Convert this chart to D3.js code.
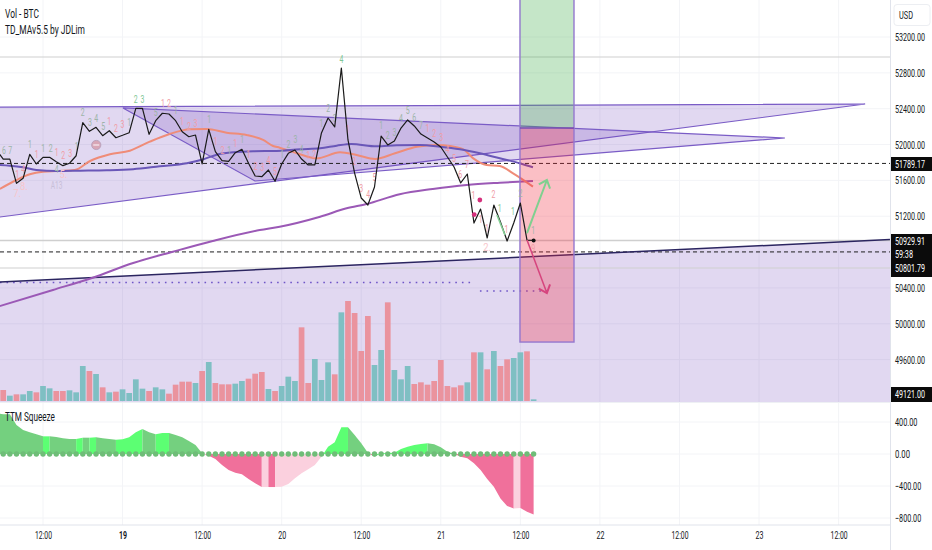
<!DOCTYPE html>
<html><head><meta charset="utf-8">
<script src="https://cdn.jsdelivr.net/npm/d3@7/dist/d3.min.js"></script>
<style>html,body{margin:0;background:#fff}svg{display:block;font-family:Roboto,sans-serif}</style>
</head><body><svg id="c" width="932" height="550"></svg>
<script>
// hours are counted from 18th 00:00
const firstCloseHour = 5;
const closes = [51939,51838,51838,51567,51623,51891,51783,51857,51857,51808,51764,51791,51875,52244,52148,52192,52099,52154,52076,52103,52132,52404,52404,52114,52266,52349,52341,52266,52143,52087,52106,51783,52170,51920,51820,51813,51909,51947,51791,51649,51641,51716,51590,51783,51902,51939,51838,51772,51772,52129,52296,52196,52854,52051,51682,51403,51325,51526,52095,51995,52039,52184,52274,52207,52117,52073,52028,51972,51861,51749,51571,51671,51124,51280,50957,51325,51135,50923,51124,51347,50934,50930];
const orangeHours = [5.5,8,10,12,14,16.8,19.1,22.1,25.1,28.1,31.1,34.2,36.7,39.7,42.7,45.2,46.7,47.7,50.3,53.3,56.8,59.3,62.1,65.1,68.4,71.4,73.4,75.4,76.9,78.9,80.9,82.9,85.9];
const orangeMa = [51504,51604,51668,51697,51705,51716,51816,51891,51931,52032,52118,52170,52173,52132,52106,52051,51984,51965,51902,51846,51913,51883,51839,51902,51976,51995,51984,51947,51846,51772,51760,51679,51530];
const blueHours = [5.5,7,9,11,14,17.6,21.6,25.6,29.6,33.7,36.2,38.2,40.7,43.7,47.2,50.8,53.8,56.3,58.5,62.3,65.3,68.9,71.9,74.9,77.9,80.9,83.9,85.9];
const blueMa = [51772,51764,51746,51716,51705,51708,51712,51724,51757,51791,51835,51887,51913,51925,51928,51947,51958,51987,52006,51980,51991,51995,51976,51947,51902,51846,51791,51746];
const purpleHours = [5.5,13.5,19.5,25.6,31.6,37.6,44.7,47.7,53.8,57.8,60.8,65.8,70.8,75.9,80.9,85.9];
const purpleMa = [50198,50377,50514,50678,50804,50924,51046,51083,51195,51288,51336,51445,51504,51549,51574,51593];

const firstVolHour = 6;
const volumes = [33,16,20,20,30,26,45,38,30,30,32,26,105,90,81,41,26,28,35,24,65,37,30,41,35,22,49,58,58,54,90,117,54,50,50,52,60,67,82,87,36,30,45,73,60,221,54,126,63,116,80,266,300,264,150,255,108,153,296,93,65,105,51,56,49,60,123,45,41,47,56,146,146,95,150,105,125,129,146,149,5];
const volTones = "rtrttrttrr"+"tttrtrtrtt"+"ttrttrrrrt"+"rtrrrttrrr"+"trtttrrttt"+"rtrrrrttrt"+"ttrrrrrrrr"+"trtrtrrttr"+"t";

const firstSqzHour = 5;
const squeeze = [509,496,496,363,300,271,246,221,221,213,196,188,188,204,204,208,196,188,179,183,208,271,313,271,246,263,263,238,208,163,113,8,-21,-63,-138,-200,-234,-254,-313,-367,-413,-413,-413,-409,-375,-304,-242,-192,-138,-33,92,146,334,334,238,133,17,-33,8,13,17,63,92,113,125,133,121,83,29,4,-33,-54,-117,-200,-313,-409,-555,-650,-680,-675,-721,-755];
const sqzRunStart = [5,12,13,17,18,19,20,23,27,29,31,36,45,46,47,54,58,61,62,70,74,83,84];
const sqzRunEnd =   [12,13,17,18,19,20,23,27,29,31,36,45,46,47,54,58,61,62,70,74,83,84,86];
const sqzRunTone =  ["d","b","d","b","d","b","d","b","d","b","d","p","l","p","l","b","d","p","b","d","p","l","p"];

const priceTicks = [53200,52800,52400,52000,51600,51200,50400,50000,49600];
const gridPrices = [53200,52800,52400,52000,51600,51200,50800,50400,50000,49600];
const sqzTicks = [400,0,-400,-800];
const timeTicks = [12,24,36,48,60,72,84,96,108,120,132];
const timeLabels = ["12:00","19","12:00","20","12:00","21","12:00","22","12:00","23","12:00"];

const triA = [[2.5,52417],[136,52452],[2.5,51162]];
const triB = [[24.06,52408],[123.9,52073],[43.97,51593]];
const wedge = [[5.51,50466],[139.75,50940]];
const wedgeFloor = 49121;
const boxHours = [83.94,92.09];
const boxPrices = [53700,52185,49796];
const dashedLevels = [51789.17,50801.79];
const grayLevels = [52977,50929.91,50622];
const dotted = [[5.5,77.15,50460],[77.9,88.16,50365]];
const upArrow = [[85,51011],[88,51604]];
const downArrow = [[85,50935],[88,50343]];
const thinGreen = [[80.47,51214],[81.68,50990]];

const tdHours = [6.1,7.07,10.03,12.04,13.15,11.04,14.05,15.06,16.11,17.07,17.97,19.08,20.03,21.09,22,23,24,25,26,27,29,30.1,31,32,32.95,34,35,37.07,38,39.08,40.08,41,42.04,43,44.05,45.06,46,47,48.07,49.03,50.08,8.1,9.13,8.1,9,14.05,14.05,15.06,51,52,52.92,54,55,56,57,57.94,58.9,60,61.06,62,63,64,65,66,67,68,69,70,71,72.06,73,74,74.93,75.93,76.94,79.95,80.9,82.9,84,78,78.95,81.9,79,85.93,85.93];
const tdPrices = [51936,51936,52003,51958,51958,51891,51913,51876,51902,51977,52356,52248,52293,52200,52256,52181,52218,52244,52497,52497,52360,52460,52453,52378,52256,52200,52237,52274,52032,51932,51932,52014,52051,51884,51753,51742,51820,51698,51884,52003,52051,51456,51530,51668,51716,51541,51724,51660,51939,51876,51884,52237,52397,52293,52951,52163,51809,51504,51437,51634,52207,52099,52137,52293,52378,52300,52211,52181,52125,52077,51939,51839,51671,51772,51430,51437,51288,51251,51456,51158,51058,51047,50853,51035,50842];
const tdTexts = ["6","7","1","1","2","1","1","2","3","1","2","3","4","5","1","2","3","1","2","3","5","1","2","1","1","2","3","1","1","2","1","1","1","1","2","3","4","5","1","2","3","7.","8.","1","4","A13","4","5.","4","1","2","1","2","3","4","1","2","3","4","5","1","2","3","4","5","6","7","1","2","3","4","5","6","7","1","2","1","1","2","1","1","1","2.","1","9"];
const tdTones = "ggggg"+"pppp"+"ggggg"+"ppp"+"g"+"GG"+"g"+"pp"+"g"+"ppp"+"g"+"pp"+"g"+"p"+"g"+"ppppp"+"ggg"+"ll"+"pp"+"a"+"g"+"l"+"g"+"pp"+"ggg"+"G"+"ppppp"+"ggggggg"+"ppppppppp"+"GG"+"g"+"ppp"+"l"+"g"+"p";
const pinkDots = [[77.89,51381],[77.04,51218]];
const signalDot = [20.03,51995];
const lastPoint = [86,50929.91];

const svg = d3.select("#c");
const W = 890, PB = 402;
const x = d3.scaleLinear().domain([12,132]).range([43,838.6]);
const y = d3.scaleLinear().domain([53200,49600]).range([37,359.6]);
const yv = d3.scaleLinear().domain([0,333]).range([401,290]);
const ys = d3.scaleLinear().domain([400,-800]).range([422,518]);

// narrow a text horizontally to a wanted width (the reference's lettering is condensed)
function fit(sel, target){
  sel.each(function(d,i){
    const t = typeof target==="function"?target(d,i):target;
    const n = this.getComputedTextLength()||1, s = t/n, x0 = +this.getAttribute("x")||0;
    d3.select(this).attr("x",x0/s).attr("transform",`scale(${s},1)`);
  });
  return sel;
}

const defs = svg.append("defs");
defs.append("clipPath").attr("id","main").append("rect").attr("width",W).attr("height",PB);
defs.append("clipPath").attr("id","low").append("rect").attr("y",403).attr("width",W).attr("height",122);
[["gh","#7fd08f"],["ph","#d6457e"]].forEach(([id,c])=>{
  defs.append("marker").attr("id",id).attr("viewBox","-8 -8 16 16").attr("refX",0).attr("refY",0)
   .attr("markerUnits","userSpaceOnUse").attr("markerWidth",16).attr("markerHeight",16).attr("orient","auto")
   .append("path").attr("d","M-7,-6L0,0L-7,6").attr("fill","none").attr("stroke",c).attr("stroke-width",2);
});

// grid
const grid = svg.append("g").attr("stroke","#f3f4f7").attr("stroke-width",1);
timeTicks.forEach(t=>grid.append("line").attr("x1",x(t)).attr("x2",x(t)).attr("y1",0).attr("y2",525));
gridPrices.forEach(p=>grid.append("line").attr("x1",0).attr("x2",W).attr("y1",y(p)).attr("y2",y(p)));
sqzTicks.forEach(v=>grid.append("line").attr("x1",0).attr("x2",W).attr("y1",ys(v)).attr("y2",ys(v)));

const main = svg.append("g").attr("clip-path","url(#main)");
const pxy = d=>[x(d[0]),y(d[1])];
const line = d3.line();
const lav = "rgba(103,58,183,0.2)", edge="#7a5cc6";

// wedge
const wedgePoly = [wedge[0],wedge[1],[wedge[1][0],wedgeFloor],[wedge[0][0],wedgeFloor]];
main.append("path").attr("d",line(wedgePoly.map(pxy))+"Z").attr("fill",lav);

// volume
const bars = main.append("g");
bars.selectAll("rect").data(volumes).join("rect")
 .attr("x",(d,i)=>x(firstVolHour+i)-2.85).attr("width",5.7)
 .attr("y",d=>yv(d)).attr("height",d=>yv(0)-yv(d))
 .attr("fill",(d,i)=>volTones[i]==="r"?"#ea939e":"#7fbfc3");

// triangles
[triA,triB].forEach(t=>main.append("path").attr("d",line(t.map(pxy))+"Z").attr("fill",lav).attr("stroke",edge).attr("stroke-width",1.2));

// level lines
grayLevels.forEach(p=>main.append("line").attr("x1",0).attr("x2",W).attr("y1",y(p)).attr("y2",y(p)).attr("stroke","#cfcfcf").attr("stroke-width",p===50929.91?1.6:1.2));
dashedLevels.forEach(p=>main.append("line").attr("x1",0).attr("x2",W).attr("y1",y(p)).attr("y2",y(p)).attr("stroke","#222").attr("stroke-width",1).attr("stroke-dasharray","4 3"));
dotted.forEach(d=>main.append("line").attr("x1",x(d[0])).attr("x2",x(d[1])).attr("y1",y(d[2])).attr("y2",y(d[2])).attr("stroke","#6f55c8").attr("stroke-width",1.6).attr("stroke-dasharray","1.6 5"));
main.append("path").attr("d",line(wedge.map(pxy))).attr("fill","none").attr("stroke","#2b2560").attr("stroke-width",1.5);

// moving averages
const smooth = d3.line().curve(d3.curveMonotoneX).x(d=>x(d[0])).y(d=>y(d[1]));
[[purpleHours,purpleMa,"#9b59b6"],[orangeHours,orangeMa,"#ef8c78"],[blueHours,blueMa,"#6a57b8"]].forEach(([h,v,c])=>{
  main.append("path").attr("d",smooth(h.map((t,i)=>[t,v[i]]))).attr("fill","none").attr("stroke",c).attr("stroke-width",2);
});

// position box
const bx = x(boxHours[0]), bw = x(boxHours[1])-bx;
main.append("rect").attr("x",bx).attr("width",bw).attr("y",y(boxPrices[0])).attr("height",y(boxPrices[1])-y(boxPrices[0])).attr("fill","rgba(62,172,72,0.3)");
main.append("rect").attr("x",bx).attr("width",bw).attr("y",y(boxPrices[1])).attr("height",y(boxPrices[2])-y(boxPrices[1])).attr("fill","rgba(242,42,62,0.3)");
main.append("rect").attr("x",bx).attr("width",bw).attr("y",y(boxPrices[0])).attr("height",y(boxPrices[2])-y(boxPrices[0])).attr("fill","none").attr("stroke","#9478cf").attr("stroke-width",1.4);
main.append("line").attr("x1",bx).attr("x2",bx+bw).attr("y1",y(boxPrices[1])).attr("y2",y(boxPrices[1])).attr("stroke","#7a4fb5").attr("stroke-width",1.4);

// TD count labels
const toneColor = {g:"#9db4a8",G:"#7fc795",p:"#f09ca5",l:"#f8c6cb",a:"#c8bfd8"};
fit(main.append("g").selectAll("text").data(tdTexts).join("text")
 .attr("x",(d,i)=>x(tdHours[i])).attr("y",(d,i)=>y(tdPrices[i])+3.5)
 .attr("text-anchor","middle").attr("font-size",10)
 .attr("fill",(d,i)=>toneColor[tdTones[i]]).text(d=>d), d=>d.length*3.9);

// price line
main.append("path").attr("d",line(closes.map((c,i)=>pxy([firstCloseHour+i,c])))).attr("fill","none").attr("stroke","#1a1a1a").attr("stroke-width",1.2).attr("stroke-linejoin","round");
main.append("circle").attr("cx",x(lastPoint[0])).attr("cy",y(lastPoint[1])).attr("r",2).attr("fill","#111");

// arrows and markers
main.append("path").attr("d",line(thinGreen.map(pxy))).attr("stroke","#86cf95").attr("stroke-width",1.6).attr("fill","none");
main.append("path").attr("d",line(upArrow.map(pxy))).attr("stroke","#7fd08f").attr("stroke-width",2).attr("fill","none").attr("marker-end","url(#gh)");
main.append("path").attr("d",line(downArrow.map(pxy))).attr("stroke","#d6457e").attr("stroke-width",1.5).attr("fill","none").attr("marker-end","url(#ph)");
main.selectAll("circle.pd").data(pinkDots).join("circle").attr("class","pd").attr("cx",d=>x(d[0])).attr("cy",d=>y(d[1])).attr("r",2.4).attr("fill","#d5307c");
main.append("circle").attr("cx",x(signalDot[0])).attr("cy",y(signalDot[1])).attr("r",4.6).attr("fill","#d8a6b6").attr("stroke","#bba3bd");
main.append("line").attr("x1",x(signalDot[0])-3).attr("x2",x(signalDot[0])+3).attr("y1",y(signalDot[1])).attr("y2",y(signalDot[1])).attr("stroke","#f1dfe6").attr("stroke-width",1.5);

// squeeze
const low = svg.append("g").attr("clip-path","url(#low)");
const tone2 = {d:"#74d07f",b:"#5cff73",p:"#f0709b",l:"#fbd0de"};
const area = d3.area().x(d=>x(d[0])).y0(ys(0)).y1(d=>ys(d[1]));
sqzRunTone.forEach((t,k)=>{
  const seg=[]; for(let h=sqzRunStart[k];h<=sqzRunEnd[k];h++) seg.push([h,squeeze[h-firstSqzHour]]);
  low.append("path").attr("d",area(seg)).attr("fill",tone2[t]);
});
low.selectAll("circle").data(squeeze).join("circle").attr("cx",(d,i)=>x(firstSqzHour+i)).attr("cy",ys(0)).attr("r",2.7).attr("fill","#6fbd78");

// axes frame
svg.append("line").attr("x1",0).attr("x2",W).attr("y1",402.5).attr("y2",402.5).attr("stroke","#eef0f4");
svg.append("line").attr("x1",0).attr("x2",W).attr("y1",525).attr("y2",525).attr("stroke","#e0e3eb");
svg.append("line").attr("x1",W+.5).attr("x2",W+.5).attr("y1",0).attr("y2",550).attr("stroke","#e0e3eb");

const styleAxis = g=>{g.select(".domain").remove();g.selectAll("line").remove();g.selectAll("text").attr("fill","#131722").attr("font-size",11).attr("font-family","Roboto,sans-serif");};
const ax = svg.append("g").attr("transform","translate(890,0)").call(d3.axisRight(y).tickValues(priceTicks).tickFormat(d=>d3.format(".2f")(d)).tickSize(0).tickPadding(5)).call(styleAxis);
fit(ax.selectAll("text"),30);
const as = svg.append("g").attr("transform","translate(890,0)").call(d3.axisRight(ys).tickValues(sqzTicks).tickFormat(d=>d3.format(".2f")(d)).tickSize(0).tickPadding(5)).call(styleAxis);
fit(as.selectAll("text"),d=>d3.format(".2f")(d).length*3.75);
const at = svg.append("g").attr("transform","translate(0,525)").call(d3.axisBottom(x).tickValues(timeTicks).tickFormat((d,i)=>timeLabels[i]).tickSize(0).tickPadding(6)).call(styleAxis);
at.selectAll("text").attr("font-weight",(d,i)=>timeLabels[i]==="19"?700:400);
fit(at.selectAll("text"),(d,i)=>timeLabels[i].length>2?17:8);

// price tags
const tag=(top,h,rows)=>{
  svg.append("rect").attr("x",891).attr("y",top).attr("width",41).attr("height",h).attr("fill","#0b0b0b");
  rows.forEach(r=>fit(svg.append("text").attr("x",895).attr("y",r[1]+4).attr("fill","#fff").attr("font-size",11).text(r[0]),r[2]||30));
};
tag(157,14,[["51789.17",164]]);
tag(234,43,[["50929.91",241],["59:38",254,18],["50801.79",268]]);
tag(387,15,[["49121.00",394.5]]);

// USD box
svg.append("rect").attr("x",894).attr("y",4.5).attr("width",36).attr("height",21).attr("rx",3).attr("fill","#fff").attr("stroke","#eceef2");
fit(svg.append("text").attr("x",899).attr("y",19).attr("font-size",11).attr("fill","#131722").text("USD"),14);

// titles
const title=(t,xp,yp,l)=>fit(svg.append("text").attr("x",xp).attr("y",yp).attr("font-size",12.5).attr("fill","#131722").text(t),l);
title("Vol - BTC",5,18,34);
title("TD_MAv5.5 by JDLim",5,34,80);
title("TTM Squeeze",5,421,50);
</script></body></html>
